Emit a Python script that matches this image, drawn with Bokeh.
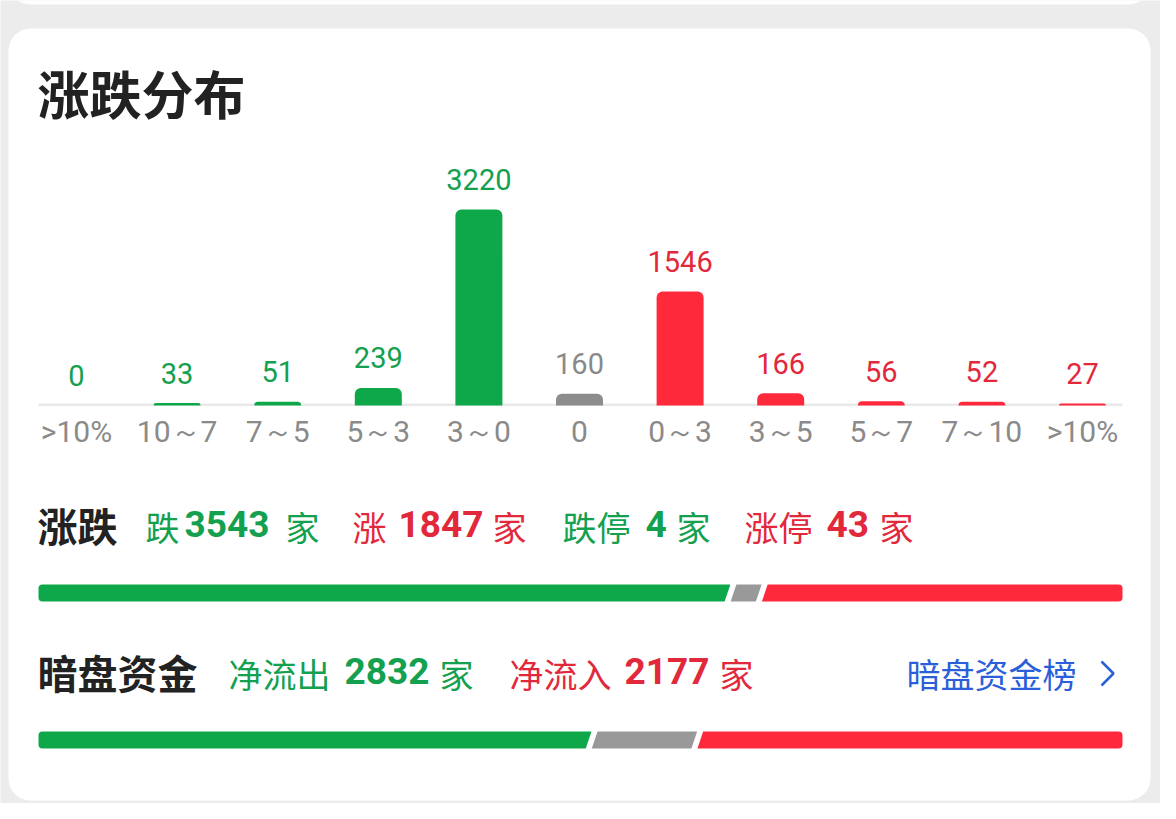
from bokeh.plotting import figure
from bokeh.models import Range1d, ColumnDataSource
from bokeh.core.properties import value
from bokeh.embed import file_html
from bokeh.resources import INLINE
import numpy as np

# ---------------- data ----------------
title = "涨跌分布"
categories = [">10%", "10～7", "7～5", "5～3", "3～0", "0", "0～3", "3～5", "5～7", "7～10", ">10%"]
counts = [0, 33, 51, 239, 3220, 160, 1546, 166, 56, 52, 27]
sides = ["down"] * 5 + ["flat"] + ["up"] * 5

fall_count = 3543
rise_count = 1847
flat_count = 160
limit_down = 4
limit_up = 43

dark_out = 2832
dark_in = 2177
dark_neutral = 541

# ---------------- style ----------------
W, H = 1160, 803
BG = "#ececec"
GREEN = "#0ea84b"
RED = "#fe2a3c"
GRAY_BAR = "#8c8c8c"
GRAY_PROG = "#999999"
TXT_GREEN = "#13a04f"
TXT_RED = "#e2283b"
DARK = "#222222"
BLUE = "#2b5fd9"
CJK = "Noto Sans CJK SC"
NUM = "Roboto"

side_color = {"down": GREEN, "flat": GRAY_BAR, "up": RED}
side_text = {"down": TXT_GREEN, "flat": "#8a8a8a", "up": TXT_RED}

p = figure(width=W, height=H, x_range=Range1d(0, W), y_range=Range1d(H, 0),
           output_backend="svg", toolbar_location=None, min_border=0,
           x_axis_location=None, y_axis_location=None)
p.grid.visible = False
p.outline_line_color = None
p.background_fill_color = BG
p.border_fill_color = BG

# cards
p.quad(left=8, right=1150, top=-40, bottom=4, fill_color="white", line_color=None, border_radius=22)
p.quad(left=8, right=1150, top=28, bottom=800, fill_color="white", line_color=None, border_radius=22)


def txt(x, y, s, size, color, bold=False, font=CJK, align="left", baseline="alphabetic"):
    p.text(x=[x], y=[y], text=[s], text_font=value(font), text_font_size=value(f"{size}px"),
           text_color=color, text_font_style="bold" if bold else "normal",
           text_align=align, text_baseline=baseline)


# title
txt(37, 92, title, 52, DARK, bold=True)

# ---------------- bar chart (own scales) ----------------
PX_PER_UNIT = 114 / 1546.0      # vertical scale of the histogram
MAX_BAR_PX = 196                # app caps the tallest bar
BASE_Y = 405                    # screen y of baseline
STEP = 100.6                    # px between categories
X0 = 76                         # screen x of first category
cap = MAX_BAR_PX / PX_PER_UNIT

p.extra_y_ranges = {"val": Range1d(start=-(H - BASE_Y) / PX_PER_UNIT, end=BASE_Y / PX_PER_UNIT)}
p.extra_x_ranges = {"cat": Range1d(start=-X0 / STEP, end=(W - X0) / STEP)}

idx = np.arange(len(categories))
counts_arr = np.array(counts, dtype=float)
src = ColumnDataSource(dict(
    x=idx,
    top=np.minimum(counts_arr, cap),
    label=[str(c) for c in counts],
    cat=categories,
    color=[side_color[s] for s in sides],
    tcolor=[side_text[s] for s in sides],
))

# baseline
p.quad(left=38, right=1122, top=403, bottom=405.5, fill_color="#e9e9e9", line_color=None)

p.vbar(x="x", top="top", bottom=0, width=47 / STEP, source=src, fill_color="color",
       line_color=None, border_radius=(6, 6, 0, 0), x_range_name="cat", y_range_name="val")

p.text(x="x", y="top", text="label", source=src, x_range_name="cat", y_range_name="val",
       text_font=value(NUM), text_font_size=value("29px"), text_color="tcolor",
       text_align="center", text_baseline="alphabetic", y_offset=-30)

p.text(x="x", y=0, text="cat", source=src, x_range_name="cat", y_range_name="val",
       text_font=value(NUM), text_font_size=value("30px"), text_color="#8a8a8a",
       text_align="center", text_baseline="alphabetic", y_offset=26)

# ---------------- summary rows ----------------
NUM_SIZE = 37


def row(dy):
    bold_y = 524 + dy
    cjk_y = 526 + dy
    num_y = 523 + dy
    return bold_y, cjk_y, num_y


b1, c1, n1 = row(0)
txt(37, b1, "涨跌", 40, DARK, bold=True)
txt(145, c1, "跌", 34, TXT_GREEN)
txt(184, n1, str(fall_count), NUM_SIZE, TXT_GREEN, bold=True, font=NUM)
txt(285, c1, "家", 34, TXT_GREEN)
txt(352, c1, "涨", 34, TXT_RED)
txt(398, n1, str(rise_count), NUM_SIZE, TXT_RED, bold=True, font=NUM)
txt(492, c1, "家", 34, TXT_RED)
txt(562, c1, "跌停", 34, TXT_GREEN)
txt(645, n1, str(limit_down), NUM_SIZE, TXT_GREEN, bold=True, font=NUM)
txt(676, c1, "家", 34, TXT_GREEN)
txt(744, c1, "涨停", 34, TXT_RED)
txt(826, n1, str(limit_up), NUM_SIZE, TXT_RED, bold=True, font=NUM)
txt(879, c1, "家", 34, TXT_RED)


def progress(y_top, y_bot, parts, colors):
    left, right = 38, 1122
    total = float(sum(parts))
    bounds = [left]
    acc = 0
    for v in parts:
        acc += v
        bounds.append(left + acc / total * (right - left))
    n = len(parts)
    for i in range(n):
        r = (0, 0, 0, 0)
        if i == 0:
            r = (4, 0, 0, 4)
        elif i == n - 1:
            r = (0, 4, 4, 0)
        p.quad(left=bounds[i], right=bounds[i + 1], top=y_top, bottom=y_bot,
               fill_color=colors[i], line_color=None, border_radius=r)
    gap, slant = 6, 3.2
    for b in bounds[1:-1]:
        xs = [b - gap / 2 + slant, b + gap / 2 + slant, b + gap / 2 - slant, b - gap / 2 - slant]
        ys = [y_top - 1, y_top - 1, y_bot + 1, y_bot + 1]
        p.patch(xs, ys, fill_color="white", line_color=None)


progress(584, 601, [fall_count, flat_count, rise_count], [GREEN, GRAY_PROG, RED])

b2, c2, n2 = row(147)
txt(37, b2, "暗盘资金", 40, DARK, bold=True)
txt(228, c2, "净流出", 34, TXT_GREEN)
txt(344, n2, str(dark_out), NUM_SIZE, TXT_GREEN, bold=True, font=NUM)
txt(439, c2, "家", 34, TXT_GREEN)
txt(509, c2, "净流入", 34, TXT_RED)
txt(624, n2, str(dark_in), NUM_SIZE, TXT_RED, bold=True, font=NUM)
txt(719, c2, "家", 34, TXT_RED)
txt(906, c2, "暗盘资金榜", 34, BLUE)
p.line([1101, 1113, 1101], [661, 673, 685], line_color=BLUE, line_width=2.5)

progress(731, 748, [dark_out, dark_neutral, dark_in], [GREEN, GRAY_PROG, RED])

open("out.html", "w").write(file_html(p, INLINE))
